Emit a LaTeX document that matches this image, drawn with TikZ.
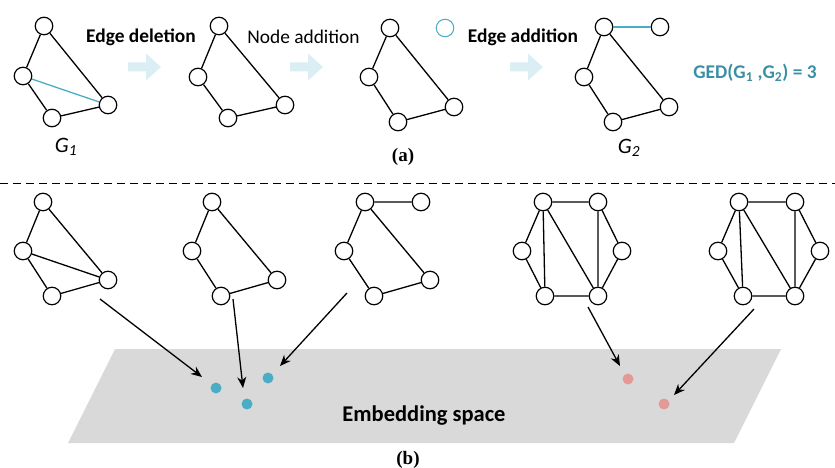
\documentclass[tikz,border=0pt]{standalone}
\usepackage{fontspec}
\setmainfont{Liberation Serif}
\newfontfamily\calfont{Carlito}
\usetikzlibrary{arrows.meta}
\definecolor{cyanE}{HTML}{4BACC6}
\definecolor{gedC}{HTML}{3A8FA6}
\definecolor{arrowC}{HTML}{DAEEF3}
\definecolor{planeC}{HTML}{D9D9D9}
\definecolor{redD}{HTML}{E39A96}
\definecolor{blueD}{HTML}{4BACC6}
\tikzset{
  gn/.style={circle,draw,line width=1.2pt,fill=white,minimum size=17.5pt,inner sep=0pt},
  ge/.style={line width=1.3pt},
  ce/.style={line width=1.3pt,draw=cyanE},
  dotB/.style={circle,fill=blueD,minimum size=11pt,inner sep=0pt},
  dotR/.style={circle,fill=redD,minimum size=11pt,inner sep=0pt},
  emb/.style={line width=1.3pt,-{Stealth[length=11pt,width=9pt,inset=3.5pt]}},
  lab/.style={font=\calfont\fontsize{19.4}{23}\selectfont,inner sep=0pt},
  blab/.style={font=\calfont\bfseries\fontsize{19.4}{23}\selectfont,inner sep=0pt},
  subcap/.style={font=\bfseries\fontsize{19}{22}\selectfont,inner sep=0pt},
  gl/.style={font=\calfont\itshape\fontsize{22}{26}\selectfont,inner sep=0pt},
  blockarrow/.pic={\fill[arrowC] (0,-4.5) -- (18,-4.5) -- (18,-13.5) -- (33,0) -- (18,13.5) -- (18,4.5) -- (0,4.5) -- cycle;}
}
\begin{document}
\begin{tikzpicture}[x=1pt,y=-1pt]
\useasboundingbox (0,0) rectangle (835,468);
% ---------- (a) ----------
% G1
\node[gn] (p1t) at (44,26) {};
\node[gn] (p1l) at (23,76) {};
\node[gn] (p1b) at (52,118) {};
\node[gn] (p1r) at (108,105) {};
\draw[ge] (p1t)--(p1l) (p1l)--(p1b) (p1b)--(p1r) (p1r)--(p1t);
\draw[ce] (p1l)--(p1r);
% G after deletion
\node[gn] (p2t) at (219,26) {};
\node[gn] (p2l) at (198,77) {};
\node[gn] (p2b) at (228,118) {};
\node[gn] (p2r) at (285,105) {};
\draw[ge] (p2t)--(p2l) (p2l)--(p2b) (p2b)--(p2r) (p2r)--(p2t);
% G after node addition
\node[gn] (p3t) at (390,28) {};
\node[gn] (p3l) at (369,77) {};
\node[gn] (p3b) at (398,122) {};
\node[gn] (p3r) at (454,107) {};
\node[gn,draw=cyanE,line width=1pt] (p3n) at (445,28) {};
\draw[ge] (p3t)--(p3l) (p3l)--(p3b) (p3b)--(p3r) (p3r)--(p3t);
% G2
\node[gn] (p4t) at (604,27) {};
\node[gn] (p4e) at (660,27) {};
\node[gn] (p4l) at (584,77) {};
\node[gn] (p4b) at (613,122) {};
\node[gn] (p4r) at (669,107) {};
\draw[ge] (p4t)--(p4l) (p4l)--(p4b) (p4b)--(p4r) (p4r)--(p4t);
\draw[ce] (p4t)--(p4e);
% block arrows
\pic at (128,67) {blockarrow};
\pic at (290,67) {blockarrow};
\pic at (510,67) {blockarrow};
% labels
\node[blab] (t1) at (141,37) {Edge deletion};
\node[lab] (t2) at (303.5,37) {Node addition};
\node[blab] (t3) at (523,37) {Edge addition};
\node[blab,text=gedC] (ged) at (755,73) {GED(G\textsubscript{1} ,G\textsubscript{2}) = 3};
\node[gl] (g1) at (66,147) {G\textsubscript{1}};
\node[gl] (g2) at (629,148) {G\textsubscript{2}};
\node[subcap] (capa) at (403,157) {(a)};
% dashed separator
\coordinate (dl) at (0,183);
\coordinate (dr) at (835,183);
\draw[line width=1pt,dash pattern=on 8pt off 5pt] (dl)--(dr);
% ---------- (b) ----------
\fill[planeC] (115,349) -- (781,349) -- (734,443) -- (68,443) -- cycle;
\node[font=\calfont\bfseries\fontsize{22.5}{26}\selectfont,inner sep=0pt] (es) at (424,416) {Embedding space};
\node[subcap] (capb) at (408,460) {(b)};
% graph A
\node[gn] (at) at (43,202) {};
\node[gn] (al) at (23,251) {};
\node[gn] (ab) at (52,296) {};
\node[gn] (ar) at (108,280) {};
\draw[ge] (at)--(al) (al)--(ab) (ab)--(ar) (ar)--(at) (al)--(ar);
% graph B
\node[gn] (bt) at (212,202) {};
\node[gn] (bl) at (192,251) {};
\node[gn] (bb) at (221,296) {};
\node[gn] (br) at (277,280) {};
\draw[ge] (bt)--(bl) (bl)--(bb) (bb)--(br) (br)--(bt);
% graph C
\node[gn] (ct) at (365,202) {};
\node[gn] (ce) at (421,202) {};
\node[gn] (cl) at (344,251) {};
\node[gn] (cb) at (374,296) {};
\node[gn] (cr) at (430,280) {};
\draw[ge] (ct)--(cl) (cl)--(cb) (cb)--(cr) (cr)--(ct) (ct)--(ce);
% graph D
\node[gn] (dTL) at (543,202) {};
\node[gn] (dTR) at (598,202) {};
\node[gn] (dL) at (522,251) {};
\node[gn] (dR) at (622,251) {};
\node[gn] (dBL) at (545,296) {};
\node[gn] (dBR) at (598,296) {};
\draw[ge] (dTL)--(dTR) (dTL)--(dL) (dL)--(dBL) (dBL)--(dBR) (dBR)--(dR) (dR)--(dTR) (dTL)--(dBL) (dTL)--(dBR) (dTR)--(dBR);
% graph E
\node[gn] (eTL) at (739,202) {};
\node[gn] (eTR) at (795,202) {};
\node[gn] (eL) at (718,251) {};
\node[gn] (eR) at (820,251) {};
\node[gn] (eBL) at (743,296) {};
\node[gn] (eBR) at (795,296) {};
\draw[ge] (eTL)--(eTR) (eTL)--(eL) (eL)--(eBL) (eBL)--(eBR) (eBR)--(eR) (eR)--(eTR) (eTL)--(eBL) (eTL)--(eBR) (eTR)--(eBR);
% dots
\node[dotB] (x1) at (216,388) {};
\node[dotB] (x2) at (247,404) {};
\node[dotB] (x3) at (268,378) {};
\node[dotR] (y1) at (628,379) {};
\node[dotR] (y2) at (664,404) {};
% embedding arrows
\coordinate (sA) at (100,299); \coordinate (eA) at (202,377);
\coordinate (sB) at (233,299); \coordinate (eB) at (243,388);
\coordinate (sC) at (347,293); \coordinate (eC) at (280,366);
\coordinate (sD) at (588,307); \coordinate (eD) at (620,366);
\coordinate (sE) at (754,309); \coordinate (eE) at (674,395);
\draw[emb] (sA)--(eA);
\draw[emb] (sB)--(eB);
\draw[emb] (sC)--(eC);
\draw[emb] (sD)--(eD);
\draw[emb] (sE)--(eE);
\end{tikzpicture}
\end{document}
